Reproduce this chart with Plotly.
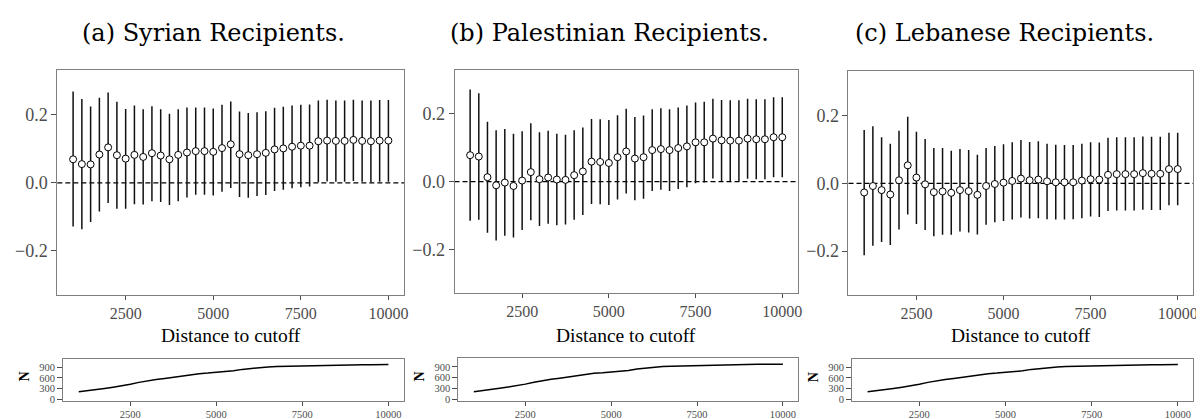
import plotly.graph_objects as go

W, H = 1204, 419

distance = [1000, 1250, 1500, 1750, 2000, 2250, 2500, 2750, 3000, 3250, 3500, 3750, 4000,
            4250, 4500, 4750, 5000, 5250, 5500, 5750, 6000, 6250, 6500, 6750, 7000, 7250,
            7500, 7750, 8000, 8250, 8500, 8750, 9000, 9250, 9500, 9750, 10000]

# (a) Syrian recipients
syr_est = [0.069, 0.055, 0.054, 0.083, 0.104, 0.081, 0.071, 0.082, 0.076, 0.087, 0.080, 0.069, 0.082,
           0.089, 0.093, 0.093, 0.091, 0.102, 0.113, 0.084, 0.081, 0.084, 0.088, 0.098, 0.101, 0.106,
           0.109, 0.109, 0.122, 0.124, 0.123, 0.123, 0.126, 0.123, 0.122, 0.124, 0.124]
syr_hi = [0.268, 0.246, 0.224, 0.250, 0.265, 0.238, 0.217, 0.227, 0.216, 0.225, 0.216, 0.203, 0.216,
          0.221, 0.221, 0.221, 0.218, 0.229, 0.239, 0.209, 0.205, 0.207, 0.210, 0.220, 0.223, 0.227,
          0.229, 0.230, 0.242, 0.244, 0.242, 0.242, 0.244, 0.242, 0.242, 0.243, 0.243]
syr_lo = [-0.128, -0.136, -0.115, -0.084, -0.059, -0.076, -0.076, -0.063, -0.064, -0.054, -0.056, -0.065, -0.054,
          -0.043, -0.035, -0.035, -0.037, -0.026, -0.015, -0.042, -0.044, -0.039, -0.036, -0.024, -0.020, -0.016,
          -0.013, -0.011, 0.002, 0.004, 0.003, 0.003, 0.005, 0.003, 0.002, 0.003, 0.003]

# (b) Palestinian recipients
pal_est = [0.078, 0.074, 0.013, -0.011, -0.003, -0.013, 0.003, 0.028, 0.007, 0.012, 0.006, 0.005, 0.019,
           0.030, 0.059, 0.058, 0.055, 0.072, 0.089, 0.068, 0.072, 0.093, 0.096, 0.093, 0.099, 0.104,
           0.116, 0.116, 0.127, 0.122, 0.121, 0.121, 0.127, 0.125, 0.125, 0.131, 0.131]
pal_hi = [0.272, 0.261, 0.177, 0.152, 0.155, 0.141, 0.149, 0.172, 0.146, 0.150, 0.141, 0.138, 0.152,
          0.160, 0.185, 0.184, 0.182, 0.196, 0.215, 0.191, 0.195, 0.214, 0.217, 0.214, 0.219, 0.225,
          0.234, 0.236, 0.245, 0.241, 0.240, 0.240, 0.245, 0.243, 0.243, 0.249, 0.249]
pal_lo = [-0.116, -0.113, -0.151, -0.174, -0.160, -0.165, -0.143, -0.114, -0.131, -0.125, -0.129, -0.127, -0.113,
          -0.099, -0.066, -0.067, -0.069, -0.053, -0.035, -0.055, -0.051, -0.028, -0.024, -0.028, -0.022, -0.017,
          -0.005, -0.003, 0.009, 0.002, 0.001, 0.002, 0.008, 0.007, 0.007, 0.013, 0.013]

# (c) Lebanese recipients
leb_est = [-0.027, -0.008, -0.020, -0.033, 0.009, 0.053, 0.017, -0.003, -0.026, -0.024, -0.028, -0.020, -0.023,
           -0.034, -0.008, -0.002, 0.002, 0.007, 0.014, 0.009, 0.011, 0.006, 0.003, 0.003, 0.003, 0.008,
           0.012, 0.011, 0.025, 0.027, 0.027, 0.027, 0.030, 0.028, 0.028, 0.042, 0.042]
leb_hi = [0.157, 0.168, 0.136, 0.117, 0.155, 0.196, 0.152, 0.131, 0.104, 0.104, 0.096, 0.101, 0.098,
          0.084, 0.104, 0.110, 0.115, 0.121, 0.128, 0.122, 0.124, 0.117, 0.114, 0.113, 0.113, 0.117,
          0.121, 0.120, 0.134, 0.136, 0.136, 0.136, 0.138, 0.137, 0.137, 0.149, 0.149]
leb_lo = [-0.212, -0.184, -0.173, -0.182, -0.136, -0.092, -0.120, -0.138, -0.156, -0.152, -0.152, -0.142, -0.145,
          -0.151, -0.122, -0.115, -0.111, -0.107, -0.101, -0.104, -0.103, -0.106, -0.107, -0.107, -0.106, -0.103,
          -0.098, -0.099, -0.082, -0.080, -0.080, -0.080, -0.078, -0.079, -0.079, -0.065, -0.065]

# sample size within bandwidth
n_obs = [210, 235, 270, 305, 340, 375, 420, 475, 520, 555, 585, 620, 640,
         680, 720, 735, 750, 770, 800, 840, 870, 895, 910, 918, 925, 932,
         938, 945, 955, 962, 965, 968, 970, 972, 973, 974, 975]

titles = ["(a) Syrian Recipients.", "(b) Palestinian Recipients.", "(c) Lebanese Recipients."]
x_ticks = [2500, 5000, 7500, 10000]
x_ticktext = ["2500", "5000", "7500", "10000"]
y_ticks = [-0.2, 0.0, 0.2]
y_ticktext = ["\u22120.2", "0.0", "0.2"]
n_ticks = [0, 300, 600, 900]

panels = [(syr_est, syr_lo, syr_hi), (pal_est, pal_lo, pal_hi), (leb_est, leb_lo, leb_hi)]

# layout geometry in pixels
main_x = [(49.5, 397.5), (448.0, 792.5), (843.3, 1189.3)]
main_y = [(63.0, 290.0), (62.5, 288.0), (64.0, 290.0)]
sub_x = [(55.4, 397.2), (451.9, 793.0), (846.9, 1189.3)]
sub_y = [(354.0, 396.5), (353.5, 396.5), (354.0, 396.5)]
title_cx = [205.8, 603.5, 999.5]
n_label_x = [16.7, 413.0, 809.0]


def px_x(a, b):
    return [a / W, b / W]


def px_y(top, bottom):
    return [1 - bottom / H, 1 - top / H]


SERIF = "Liberation Serif"
BOX = "#7f7f7f"
TICKC = "#4d4d4d"

fig = go.Figure()
layout = dict(
    width=W, height=H, margin=dict(l=0, r=0, t=0, b=0),
    paper_bgcolor="white", plot_bgcolor="white", showlegend=False,
    font=dict(family=SERIF, color="#4d4d4d"),
)
annotations = []
shapes = []

for i, (est, lo, hi) in enumerate(panels):
    k = i + 1
    xa = "x" if k == 1 else f"x{k}"
    ya = "y" if k == 1 else f"y{k}"
    plus = [h - e for h, e in zip(hi, est)]
    minus = [e - l for e, l in zip(est, lo)]
    fig.add_trace(go.Scatter(
        x=distance, y=est, mode="markers", xaxis=xa, yaxis=ya,
        marker=dict(symbol="circle", size=7, color="white", line=dict(color="black", width=1)),
        error_y=dict(type="data", symmetric=False, array=plus, arrayminus=minus,
                     width=0, thickness=1.5, color="#111111"),
        hoverinfo="skip",
    ))
    common_axis = dict(showgrid=False, zeroline=False, showline=True, mirror=True,
                       linecolor=BOX, linewidth=1, ticks="outside", tickcolor=TICKC,
                       tickwidth=1)
    layout["xaxis" if k == 1 else f"xaxis{k}"] = dict(
        common_axis, domain=px_x(*main_x[i]), anchor=ya, range=[550, 10450],
        tickvals=x_ticks, ticktext=x_ticktext, ticklen=4,
        tickfont=dict(family=SERIF, size=16, color=TICKC))
    layout["yaxis" if k == 1 else f"yaxis{k}"] = dict(
        common_axis, domain=px_y(*main_y[i]), anchor=xa, range=[-0.33, 0.33],
        tickvals=y_ticks, ticktext=y_ticktext, ticklen=5,
        tickfont=dict(family=SERIF, size=18, color=TICKC))
    shapes.append(dict(type="line", xref=f"{xa} domain", yref=ya, x0=0, x1=1, y0=0, y1=0,
                       line=dict(color="black", width=1.2, dash="5px,3px"), layer="below"))

    # N panel
    kb = k + 3
    xb = f"x{kb}"
    yb = f"y{kb}"
    fig.add_trace(go.Scatter(
        x=distance, y=n_obs, mode="lines", xaxis=xb, yaxis=yb,
        line=dict(color="black", width=1.5), hoverinfo="skip",
    ))
    layout[f"xaxis{kb}"] = dict(
        common_axis, domain=px_x(*sub_x[i]), anchor=yb, range=[550, 10450],
        tickvals=x_ticks, ticktext=x_ticktext, ticklen=4,
        tickfont=dict(family=SERIF, size=10.5, color=TICKC))
    layout[f"yaxis{kb}"] = dict(
        common_axis, domain=px_y(*sub_y[i]), anchor=xb, range=[-40, 1142],
        tickvals=n_ticks, ticktext=[str(v) for v in n_ticks], ticklen=5,
        tickfont=dict(family=SERIF, size=10.5, color=TICKC))

    # titles and axis labels
    annotations.append(dict(text=titles[i], x=title_cx[i] / W, y=1 - 25 / H,
                            xref="paper", yref="paper", xanchor="center", yanchor="middle",
                            showarrow=False,
                            font=dict(family="DejaVu Serif", size=24, color="black")))
    cx = (main_x[i][0] + main_x[i][1]) / 2
    annotations.append(dict(text="Distance to cutoff", x=cx / W, y=1 - 331 / H,
                            xref="paper", yref="paper", xanchor="center", yanchor="middle",
                            showarrow=False, font=dict(family=SERIF, size=19.5, color="black")))
    annotations.append(dict(text="<b>N</b>", x=n_label_x[i] / W, y=1 - 372.5 / H,
                            xref="paper", yref="paper", xanchor="center", yanchor="middle",
                            textangle=-90, showarrow=False,
                            font=dict(family=SERIF, size=14, color="black")))

layout["annotations"] = annotations
layout["shapes"] = shapes
fig.update_layout(**layout)

fig.write_html("out.html")
